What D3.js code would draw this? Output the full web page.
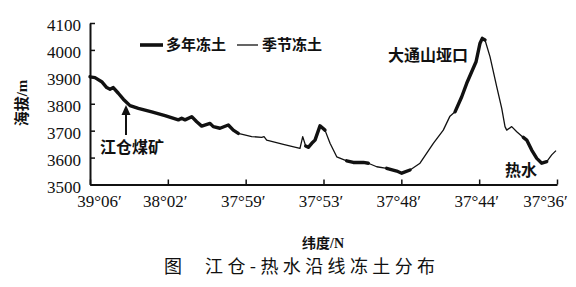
<!DOCTYPE html>
<html>
<head>
<meta charset="utf-8">
<script src="https://cdn.jsdelivr.net/npm/d3@7"></script>
<style>
body{margin:0;background:#fff;}
svg{display:block;}
</style>
</head>
<body>
<div id="chart"></div>
<script>
// latitude tick labels along the route, and elevation ticks
var latLabels = ["39°06′","38°02′","37°59′","37°53′","37°48′","37°44′","37°36′"];
var elevTicks = [3500,3600,3700,3800,3900,4000,4100];

// profile: position along the route (in tick units) and elevation (m)
var routePos = [0,0.064,0.150,0.215,0.257,0.299,0.364,0.428,0.514,0.621,
	0.793,0.964,1.135,1.178,1.221,1.307,1.371,1.435,1.542,1.584,
	1.670,1.777,1.841,1.905,2.078,2.206,2.236,2.270,2.484,2.698,
	2.733,2.771,2.805,2.849,2.891,2.955,3.019,3.084,3.170,3.298,
	3.383,3.512,3.576,3.684,3.812,3.941,4.005,4.112,4.240,4.411,
	4.539,4.625,4.690,4.776,4.840,4.904,4.960,5.011,5.040,5.075,
	5.139,5.226,5.290,5.332,5.354,5.418,5.483,5.567,5.611,5.675,
	5.740,5.804,5.868,5.932,5.987];
var elevation = [3900,3897,3882,3860,3854,3860,3839,3817,3793,3783,
	3770,3756,3740,3746,3740,3752,3733,3717,3727,3715,
	3709,3721,3702,3690,3678,3675,3678,3665,3649,3634,
	3678,3643,3638,3653,3665,3718,3702,3653,3603,3588,
	3582,3582,3579,3566,3560,3550,3542,3554,3579,3653,
	3702,3754,3770,3826,3876,3919,3956,4025,4043,4037,
	3975,3863,3783,3715,3702,3715,3696,3675,3665,3628,
	3597,3579,3585,3610,3626];
// point index ranges where the ground is permafrost (rest is seasonal frost)
var permafrostSpans = [[0,23],[31,36],[39,42],[44,47],[52,59],[67,72]];

var legendNames = ["多年冻土","季节冻土"];

var W = 576, H = 287;
var cjk = "'Noto Sans CJK SC', sans-serif";
var serif = "'Liberation Serif', 'Times New Roman', serif";

var profile = routePos.map(function(p,i){ return {p:p, e:elevation[i]}; });

var x = d3.scaleLinear().domain([0,6]).range([90,557]);
var y = d3.scaleLinear().domain([3500,4100]).range([184.5,23]);

var svg = d3.select("#chart")
	.append("svg")
	.attr("width",W)
	.attr("height",H);

var xAxis = d3.axisBottom(x)
	.tickValues(d3.range(latLabels.length))
	.tickFormat(function(i){ return latLabels[i]; })
	.tickSizeInner(-5)
	.tickSizeOuter(0)
	.tickPadding(10);

var yAxis = d3.axisLeft(y)
	.tickValues(elevTicks)
	.tickFormat(d3.format("d"))
	.tickSizeInner(-5)
	.tickSizeOuter(0)
	.tickPadding(9);

var gx = svg.append("g")
	.attr("transform","translate(0," + y(3500) + ")")
	.call(xAxis);

var gy = svg.append("g")
	.attr("transform","translate(" + x(0) + ",0)")
	.call(yAxis);

[gx,gy].forEach(function(g){
	g.attr("font-family",null).attr("font-size",null);
	g.select(".domain").attr("stroke","#111").attr("stroke-width",2);
	g.selectAll(".tick line").attr("stroke","#111").attr("stroke-width",1.5);
	g.selectAll("text")
		.attr("fill","#111")
		.attr("font-family",serif)
		.attr("font-size","17px");
});
gy.selectAll(".tick text").attr("dy","0.45em");
// end labels sit inside the axis ends
gx.selectAll(".tick text")
	.attr("dx",function(d,i){ return i===0 ? 9 : (i===latLabels.length-1 ? -12 : -3); });

var line = d3.line()
	.x(function(d){ return x(d.p); })
	.y(function(d){ return y(d.e); });

// seasonal frost: thin line through the whole profile
svg.append("path")
	.datum(profile)
	.attr("d",line)
	.attr("fill","none")
	.attr("stroke","#111")
	.attr("stroke-width",1.3)
	.attr("stroke-linejoin","round");

// permafrost sections drawn thick on top
svg.selectAll(".perm")
	.data(permafrostSpans)
	.enter()
	.append("path")
	.attr("class","perm")
	.attr("d",function(s){ return line(profile.slice(s[0],s[1]+1)); })
	.attr("fill","none")
	.attr("stroke","#111")
	.attr("stroke-width",3.4)
	.attr("stroke-linejoin","round")
	.attr("stroke-linecap","round");

// legend
var legend = svg.append("g").attr("transform","translate(140,45)");
legend.append("line")
	.attr("x1",0).attr("x2",23).attr("y1",0).attr("y2",0)
	.attr("stroke","#111").attr("stroke-width",3.6);
legend.append("text")
	.attr("x",26).attr("y",0).attr("dy","0.36em")
	.text(legendNames[0]);
legend.append("line")
	.attr("x1",97).attr("x2",118).attr("y1",0).attr("y2",0)
	.attr("stroke","#111").attr("stroke-width",1.3);
legend.append("text")
	.attr("x",122).attr("y",0).attr("dy","0.36em")
	.text(legendNames[1]);
legend.selectAll("text")
	.style("font-family",cjk)
	.style("font-weight","bold")
	.style("font-size","15px")
	.attr("fill","#111");

// place annotations
function note(txt,px,py,size){
	return svg.append("text")
		.attr("x",px).attr("y",py).attr("dy","0.36em")
		.text(txt)
		.style("font-family",cjk)
		.style("font-weight","bold")
		.style("font-size",size+"px")
		.attr("fill","#111");
}
note("大通山垭口",388,55,16);
note("江仓煤矿",100,147,16);
note("热水",505,170,16);

// arrow pointing at Jiangcang coal mine
svg.append("line")
	.attr("x1",126).attr("x2",126).attr("y1",135).attr("y2",112)
	.attr("stroke","#111").attr("stroke-width",2);
svg.append("path")
	.attr("d","M126,105L121.5,115L130.5,115Z")
	.attr("fill","#111");

// y axis title
var ylab = svg.append("text")
	.attr("transform","translate(22,103)rotate(-90)")
	.attr("text-anchor","middle")
	.attr("dy","0.36em")
	.style("font-weight","bold")
	.style("font-size","15px")
	.attr("fill","#111");
ylab.append("tspan").style("font-family",cjk).text("海拔");
ylab.append("tspan").style("font-family",serif).text("/m");

// x axis title
var xlab = svg.append("text")
	.attr("x",323).attr("y",243)
	.attr("text-anchor","middle")
	.attr("dy","0.36em")
	.style("font-weight","bold")
	.style("font-size","14px")
	.attr("fill","#111");
xlab.append("tspan").style("font-family",cjk).text("纬度");
xlab.append("tspan").style("font-family",serif).text("/N");

// figure caption
svg.append("text")
	.attr("x",164).attr("y",267).attr("dy","0.36em")
	.style("font-family",cjk)
	.style("font-size","18px")
	.attr("fill","#111")
	.text("图");
svg.append("text")
	.attr("x",205).attr("y",267).attr("dy","0.36em")
	.attr("textLength",230)
	.style("font-family",cjk)
	.style("font-size","18px")
	.attr("fill","#111")
	.text("江仓-热水沿线冻土分布");
</script>
</body>
</html>
